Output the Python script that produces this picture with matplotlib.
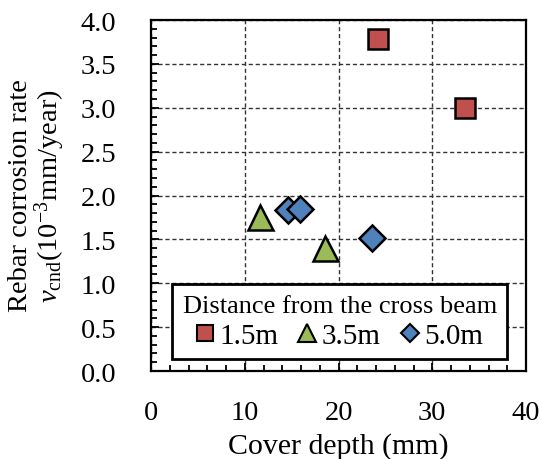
import matplotlib
matplotlib.use('Agg')
import matplotlib.pyplot as plt
from matplotlib.ticker import MultipleLocator, FormatStrFormatter
from matplotlib.lines import Line2D
from matplotlib.transforms import ScaledTranslation

plt.rcParams['font.family'] = ['Liberation Serif', 'DejaVu Serif']
plt.rcParams['mathtext.fontset'] = 'custom'
plt.rcParams['mathtext.rm'] = 'Liberation Serif'
plt.rcParams['mathtext.it'] = 'Liberation Serif:italic'

# data
labels = ['1.5m', '3.5m', '5.0m']
depth_15 = [24.2, 33.5]
rate_15 = [3.78, 3.00]
depth_35 = [11.6, 18.6]
rate_35 = [1.76, 1.40]
depth_50 = [14.6, 15.9, 23.6]
rate_50 = [1.83, 1.85, 1.52]

colors = ['#C0504D', '#9BBB59', '#4F81BD']

fig = plt.figure(figsize=(5.42, 4.6), dpi=100)
ax = fig.add_axes([0.2786, 0.1913, 0.6919, 0.763])

ax.plot(depth_15, rate_15, ls='none', marker='s', ms=14, mfc=colors[0], mec='black', mew=1.8, zorder=3)
ax.plot(depth_35, rate_35, ls='none', marker='^', ms=18, mfc=colors[1], mec='black', mew=1.8, zorder=3)
ax.plot(depth_50, rate_50, ls='none', marker='D', ms=13, mfc=colors[2], mec='black', mew=1.8, zorder=3)

ax.set_xlim(0, 40)
ax.set_ylim(0, 4.0)
ax.xaxis.set_major_locator(MultipleLocator(10))
ax.xaxis.set_minor_locator(MultipleLocator(2))
ax.yaxis.set_major_locator(MultipleLocator(0.5))
ax.yaxis.set_minor_locator(MultipleLocator(0.1))
ax.yaxis.set_major_formatter(FormatStrFormatter('%.1f'))
ax.tick_params(which='both', direction='in', top=False, right=False, width=1.3, labelsize=20.5)
ax.tick_params(which='major', length=6)
ax.tick_params(which='minor', length=4)
ax.xaxis.set_tick_params(which='major', pad=21)
ax.yaxis.set_tick_params(which='major', pad=4)
ax.grid(True, which='major', ls=(0, (3, 2)), color='#333333', lw=1)
for s in ax.spines.values():
    s.set_linewidth(1.6)

# push y tick labels further left, as in the reference
shift = ScaledTranslation(-21 / 72, 0, fig.dpi_scale_trans)
for lab in ax.get_yticklabels():
    lab.set_transform(lab.get_transform() + shift)

ax.set_xlabel('Cover depth (mm)', fontsize=21.5, labelpad=5)
fig.text(0.037, 0.574, 'Rebar corrosion rate', rotation=90, fontsize=20.5, ha='center', va='center')
fig.text(0.092, 0.574, r'$\mathit{v}_{\mathrm{cnd}}$(10$^{-3}$mm/year)', rotation=90,
         fontsize=20.5, ha='center', va='center')

handles = [
    Line2D([], [], ls='none', marker='s', ms=12, mfc=colors[0], mec='black', mew=1.5),
    Line2D([], [], ls='none', marker='^', ms=13, mfc=colors[1], mec='black', mew=1.5),
    Line2D([], [], ls='none', marker='D', ms=9, mfc=colors[2], mec='black', mew=1.5),
]
leg = ax.legend(handles, labels, title='Distance from the cross beam', ncol=3, loc='lower center',
                bbox_to_anchor=(0.503, 0.034), fontsize=21, title_fontsize=19,
                handlelength=0.6, handletextpad=0.2, columnspacing=0.7,
                borderpad=0.35, labelspacing=0.2, fancybox=False, framealpha=1,
                edgecolor='black', borderaxespad=0)
leg.get_frame().set_linewidth(2)
leg.set_zorder(5)

fig.savefig('out.png', dpi=100)
